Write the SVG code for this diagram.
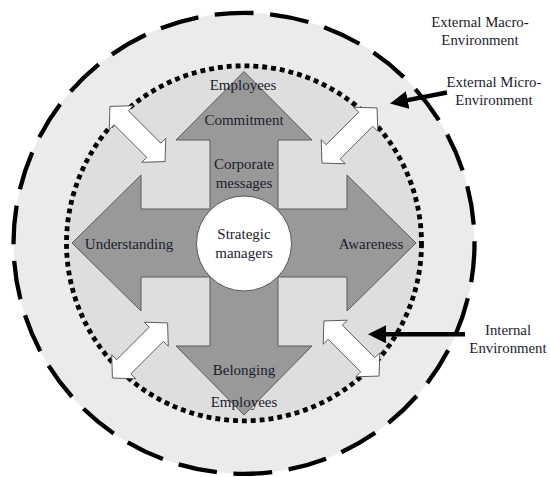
<svg xmlns="http://www.w3.org/2000/svg" width="550" height="477" viewBox="0 0 550 477">
  <style>
    .lbl { font-family: "Liberation Serif", "Times New Roman", serif; font-size: 15px; fill: #1c1c2e; text-anchor: middle; }
    .ext { font-family: "Liberation Serif", "Times New Roman", serif; font-size: 14.8px; fill: #1c1c2e; text-anchor: middle; }
    .dbl { fill: #ffffff; stroke: #555555; stroke-width: 0.9; stroke-linejoin: miter; }
    .ptr { stroke: #000000; stroke-width: 4.5; fill: none; }
  </style>
  <defs>
    <polygon id="dblArrow" class="dbl" points="-39,0 -23,-17 -23,-10 23,-10 23,-17 39,0 23,17 23,10 -23,10 -23,17"/>
    <marker id="blackHead" markerUnits="userSpaceOnUse" markerWidth="18" markerHeight="18" refX="4" refY="9" orient="auto">
      <path d="M0,0 L18,9 L0,18 z" fill="#000000"/>
    </marker>
  </defs>
  <rect x="0" y="0" width="550" height="477" fill="#ffffff"/>

  <g id="external-macro-environment">
    <circle cx="244" cy="243.3" r="230.5" fill="#ebebeb" stroke="#000000" stroke-width="4.3" stroke-dasharray="39 16.6"/>
  </g>
  <g id="external-micro-environment">
    <circle cx="244" cy="243.3" r="177.5" fill="#dedede" stroke="#000000" stroke-width="4.8" stroke-dasharray="4.9 4.0"/>
  </g>

  <g id="message-arrows">
    <polygon points="244,71.5 312,140 278,140 278,209 347,209 347,175 416,243 347,311 347,277 278,277 278,346 312,346 244,415 176,346 210,346 210,277 141,277 141,311 72,243 141,175 141,209 210,209 210,140 176,140" fill="#999999" stroke="#5a5a5a" stroke-width="1"/>
  </g>

  <g id="arrow-up">
    <text class="lbl" x="243" y="90">Employees</text>
    <text class="lbl" x="244" y="125">Commitment</text>
    <text class="lbl" x="244" y="169">Corporate</text>
    <text class="lbl" x="244" y="187.5">messages</text>
  </g>
  <g id="arrow-left">
    <text class="lbl" x="129" y="249">Understanding</text>
  </g>
  <g id="arrow-right">
    <text class="lbl" x="371" y="248.5">Awareness</text>
  </g>
  <g id="arrow-down">
    <text class="lbl" x="244" y="375">Belonging</text>
    <text class="lbl" x="244" y="407">Employees</text>
  </g>

  <g id="strategic-managers">
    <circle cx="244" cy="243.5" r="47.5" fill="#ffffff" stroke="#555555" stroke-width="1"/>
    <text class="lbl" x="244" y="239">Strategic</text>
    <text class="lbl" x="244" y="257.5">managers</text>
  </g>

  <g id="connectors">
    <use href="#dblArrow" transform="translate(137.5,134) rotate(45)"/>
    <use href="#dblArrow" transform="translate(349.5,135.5) rotate(-45)"/>
    <use href="#dblArrow" transform="translate(140,350.5) rotate(-45)"/>
    <use href="#dblArrow" transform="translate(351.5,348.5) rotate(45)"/>
    <line class="ptr" x1="447" y1="92.5" x2="403.75" y2="100.85" marker-end="url(#blackHead)"/>
    <line class="ptr" x1="465" y1="334.3" x2="382" y2="334.3" marker-end="url(#blackHead)"/>
  </g>

  <g id="label-external-macro">
    <text class="ext" x="480" y="27">External Macro-</text>
    <text class="ext" x="480" y="45">Environment</text>
  </g>
  <g id="label-external-micro">
    <text class="ext" x="494" y="87.3">External Micro-</text>
    <text class="ext" x="494" y="105">Environment</text>
  </g>
  <g id="label-internal">
    <text class="ext" x="508" y="335">Internal</text>
    <text class="ext" x="508" y="352.7">Environment</text>
  </g>
</svg>
